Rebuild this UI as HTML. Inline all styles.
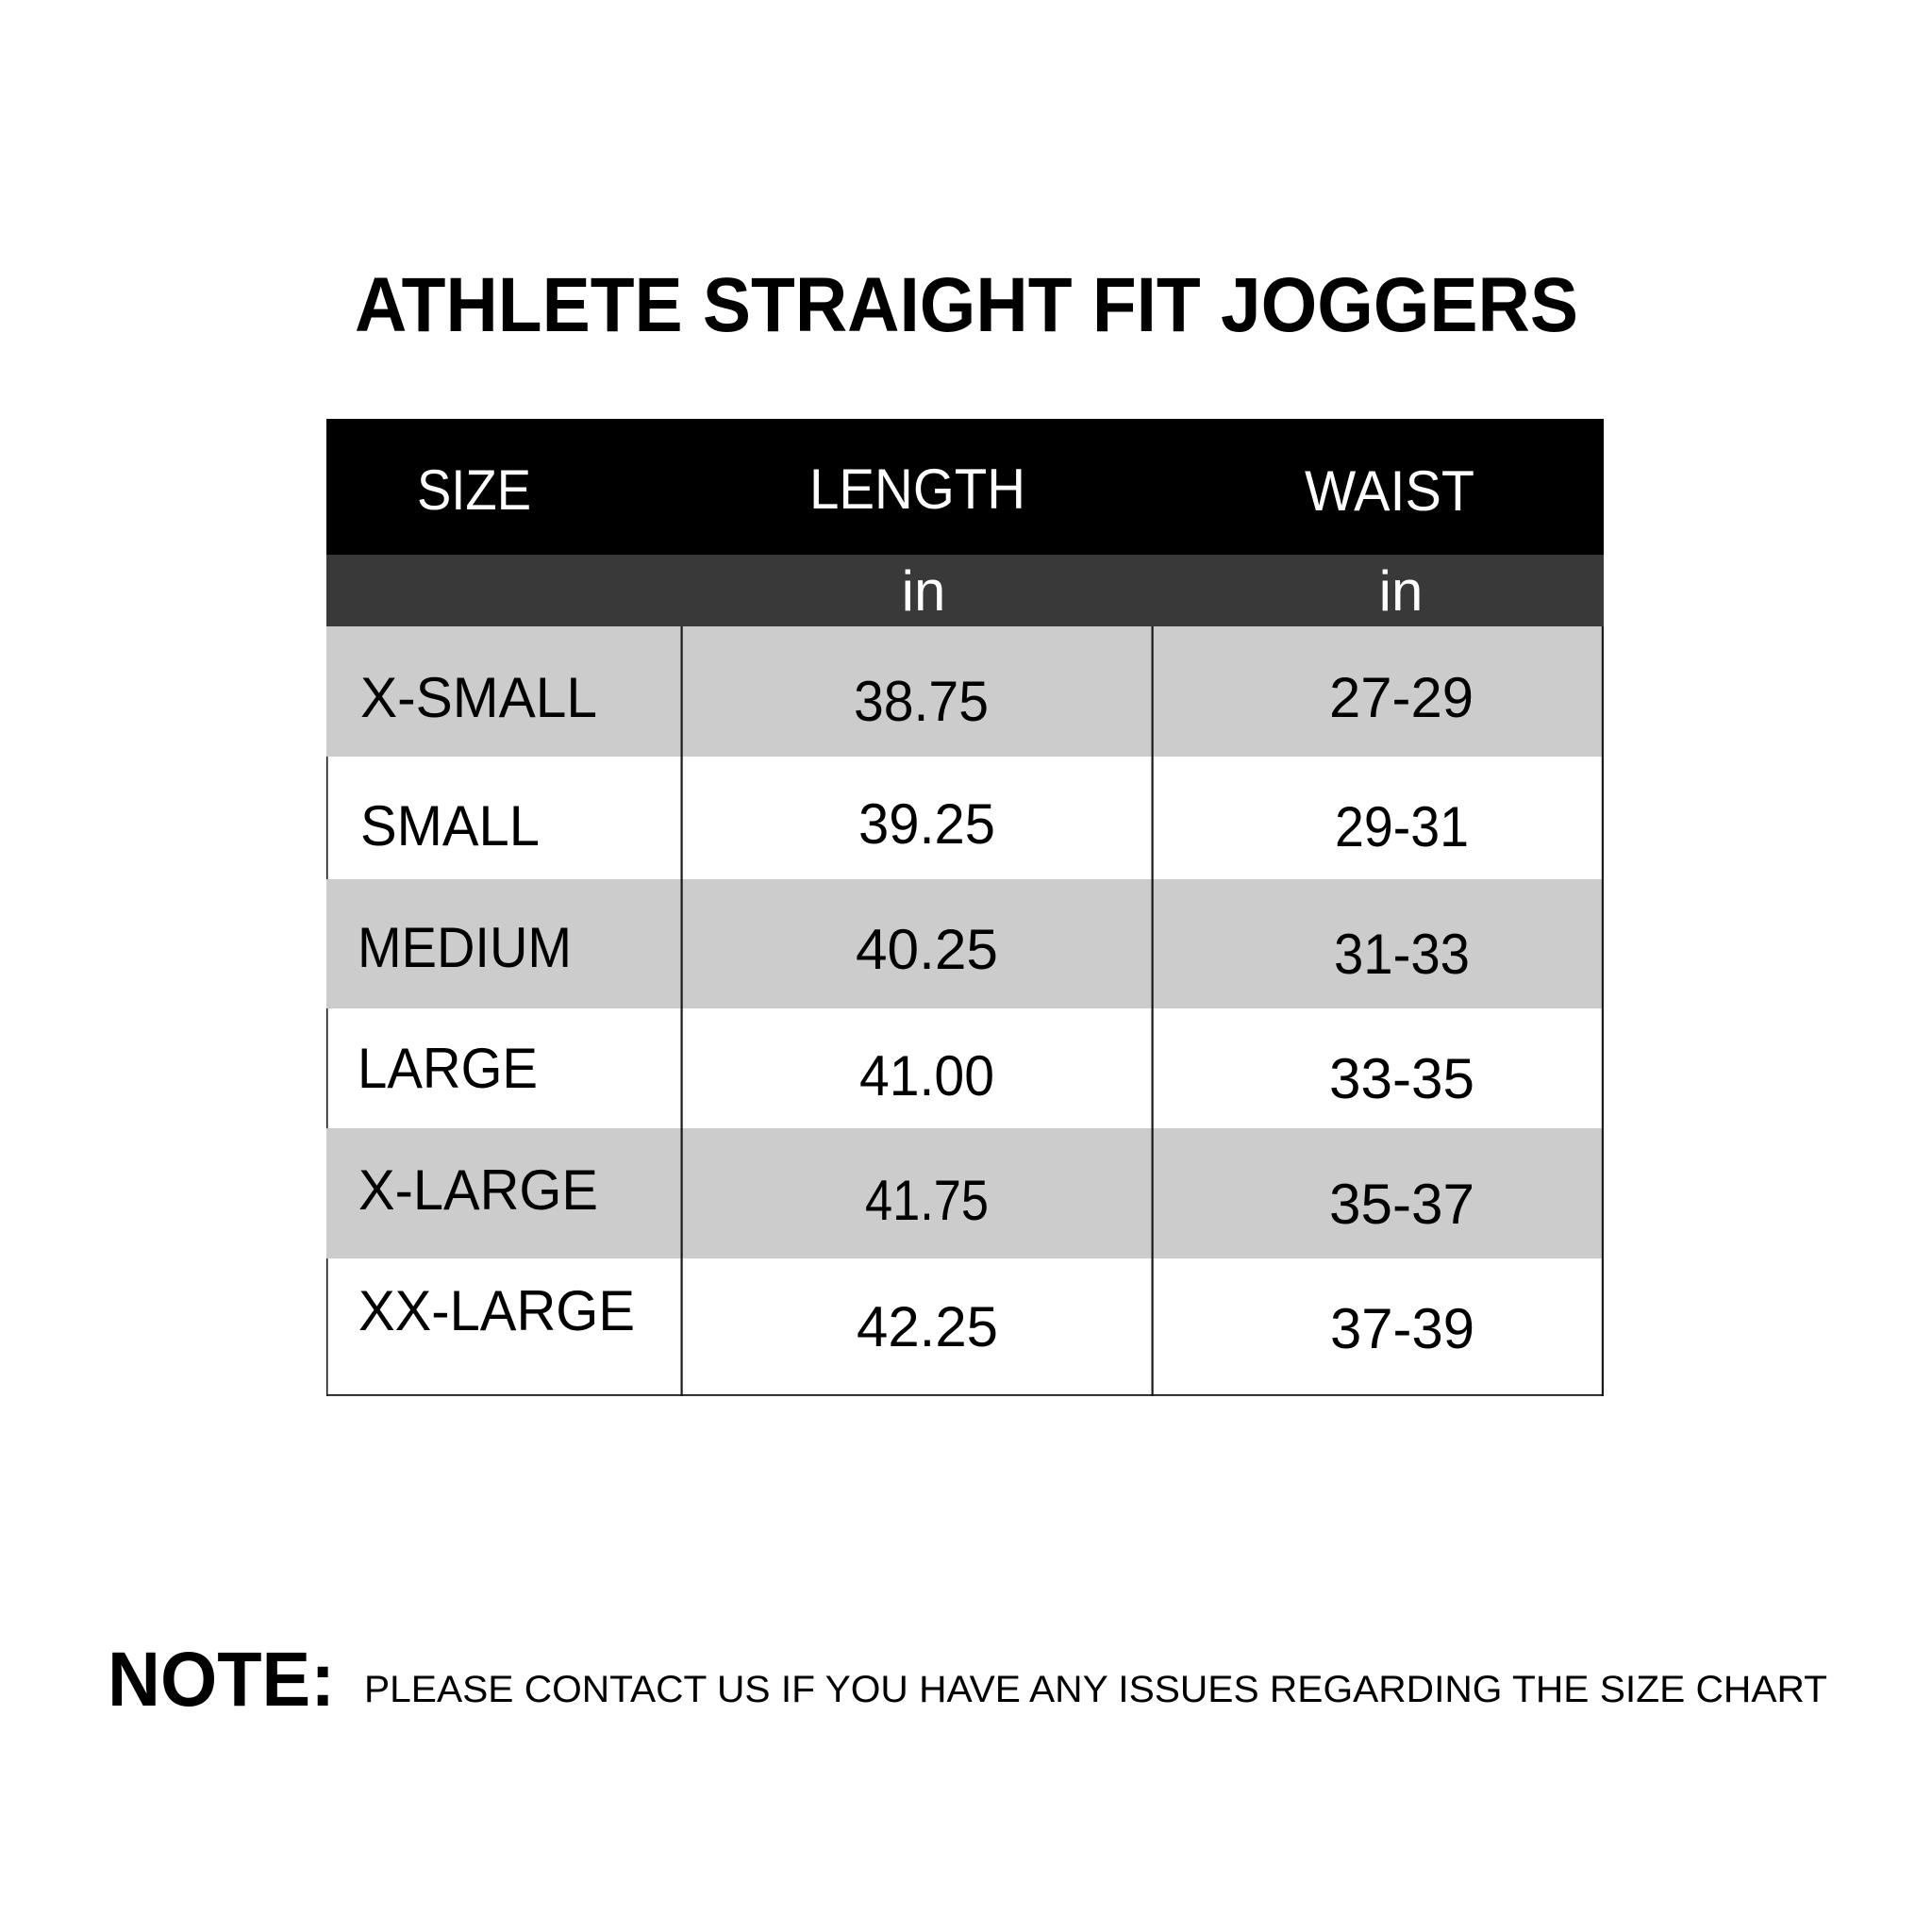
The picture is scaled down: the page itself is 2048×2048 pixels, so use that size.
<!DOCTYPE html>
<html>
<head>
<meta charset="utf-8">
<style>
html,body{margin:0;padding:0;background:#fff;}
svg{display:block;}
text{font-family:"Liberation Sans",sans-serif;}
</style>
</head>
<body>
<svg width="2048" height="2048" viewBox="0 0 2048 2048" xmlns="http://www.w3.org/2000/svg">
<rect x="0" y="0" width="2048" height="2048" fill="#fff"/>
<!-- Title -->
<text x="376" y="351" font-size="82" font-weight="bold" fill="#000" textLength="1297" lengthAdjust="spacingAndGlyphs">ATHLETE STRAIGHT FIT JOGGERS</text>

<!-- Header -->
<rect x="346" y="444" width="1354" height="144" fill="#000"/>
<rect x="346" y="588" width="1354" height="76" fill="#393939"/>

<!-- Rows -->
<rect x="346" y="664" width="1354" height="138" fill="#cccccc"/>
<rect x="346" y="802" width="1354" height="130" fill="#ffffff"/>
<rect x="346" y="932" width="1354" height="137" fill="#cccccc"/>
<rect x="346" y="1069" width="1354" height="127" fill="#ffffff"/>
<rect x="346" y="1196" width="1354" height="138" fill="#cccccc"/>
<rect x="346" y="1334" width="1354" height="145" fill="#ffffff"/>

<!-- Borders -->
<rect x="346" y="802" width="1.5" height="130" fill="#111"/>
<rect x="346" y="1069" width="1.5" height="127" fill="#111"/>
<rect x="346" y="1334" width="1.5" height="146" fill="#111"/>
<rect x="721.5" y="664" width="2.2" height="816" fill="#1a1a1a"/>
<rect x="1220.5" y="664" width="2.2" height="816" fill="#1a1a1a"/>
<rect x="1697.8" y="664" width="2.2" height="816" fill="#1a1a1a"/>
<rect x="346" y="1478" width="1354" height="1.8" fill="#1a1a1a"/>

<!-- Header text -->
<g fill="#fff" font-size="60">
<text x="442" y="540" textLength="121" lengthAdjust="spacingAndGlyphs">SIZE</text>
<text x="858" y="539" textLength="229" lengthAdjust="spacingAndGlyphs">LENGTH</text>
<text x="1383" y="541" textLength="180" lengthAdjust="spacingAndGlyphs">WAIST</text>
<text x="979" y="647" text-anchor="middle">in</text>
<text x="1485" y="647" text-anchor="middle">in</text>
</g>

<!-- Body text -->
<g fill="#000" font-size="60">
<text x="382" y="760" textLength="251" lengthAdjust="spacingAndGlyphs">X-SMALL</text>
<text x="382" y="896" textLength="190" lengthAdjust="spacingAndGlyphs">SMALL</text>
<text x="379" y="1025" textLength="227" lengthAdjust="spacingAndGlyphs">MEDIUM</text>
<text x="379" y="1153" textLength="191" lengthAdjust="spacingAndGlyphs">LARGE</text>
<text x="380" y="1282" textLength="254" lengthAdjust="spacingAndGlyphs">X-LARGE</text>
<text x="380" y="1410" textLength="293" lengthAdjust="spacingAndGlyphs">XX-LARGE</text>

<text x="905" y="764" textLength="143" lengthAdjust="spacingAndGlyphs">38.75</text>
<text x="910" y="894" textLength="145" lengthAdjust="spacingAndGlyphs">39.25</text>
<text x="907" y="1027" textLength="151" lengthAdjust="spacingAndGlyphs">40.25</text>
<text x="911" y="1161" textLength="143" lengthAdjust="spacingAndGlyphs">41.00</text>
<text x="917" y="1293" textLength="131" lengthAdjust="spacingAndGlyphs">41.75</text>
<text x="908" y="1427" textLength="150" lengthAdjust="spacingAndGlyphs">42.25</text>

<text x="1409" y="760" textLength="153" lengthAdjust="spacingAndGlyphs">27-29</text>
<text x="1415" y="897" textLength="142" lengthAdjust="spacingAndGlyphs">29-31</text>
<text x="1414" y="1032" textLength="144" lengthAdjust="spacingAndGlyphs">31-33</text>
<text x="1409" y="1164" textLength="154" lengthAdjust="spacingAndGlyphs">33-35</text>
<text x="1409" y="1297" textLength="154" lengthAdjust="spacingAndGlyphs">35-37</text>
<text x="1410" y="1429" textLength="153" lengthAdjust="spacingAndGlyphs">37-39</text>
</g>

<!-- Note -->
<text x="114" y="1808" font-size="82" font-weight="bold" fill="#000" textLength="241" lengthAdjust="spacingAndGlyphs">NOTE:</text>
<text x="386" y="1804" font-size="40" fill="#000" textLength="1551" lengthAdjust="spacingAndGlyphs">PLEASE CONTACT US IF YOU HAVE ANY ISSUES REGARDING THE SIZE CHART</text>
</svg>
</body>
</html>
